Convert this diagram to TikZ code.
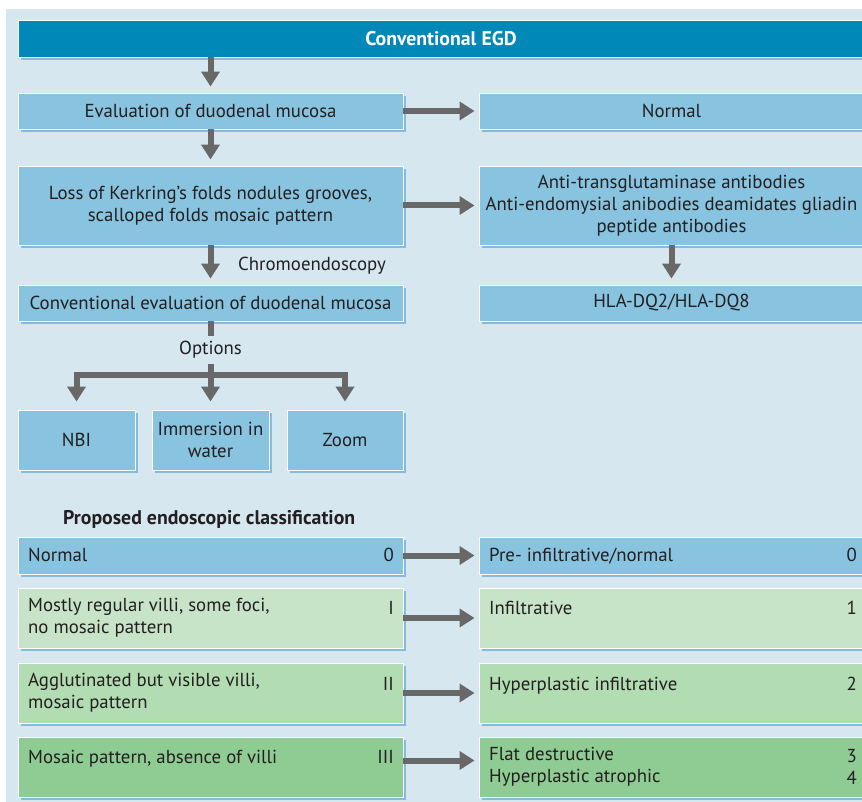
\documentclass[tikz,border=0pt]{standalone}
\usepackage{fontspec}
\setmainfont{PT Sans}
\usetikzlibrary{arrows.meta,shadows,calc}
\definecolor{bgc}{HTML}{D6E7F0}
\definecolor{hdrc}{HTML}{0088B8}
\definecolor{boxc}{HTML}{88C3DF}
\definecolor{gA}{HTML}{C8E4C8}
\definecolor{gB}{HTML}{B2DCB2}
\definecolor{gC}{HTML}{8FCC93}
\definecolor{arrc}{HTML}{686868}
\definecolor{txtc}{HTML}{231F20}
\definecolor{shc}{HTML}{7DB8DC}
\begin{document}
\begin{tikzpicture}[x=1pt,y=-1pt,
  txt/.style={font=\fontsize{18.8}{22}\selectfont, text=txtc, inner sep=0pt},
  bold/.style={font=\fontsize{19.8}{22}\selectfont\bfseries},
  box/.style={txt, draw=white, line width=0.9pt, fill=boxc, align=center,
    drop shadow={shadow xshift=3pt, shadow yshift=-3pt, fill=shc, opacity=0.9}},
  shaft/.style={draw=arrc, line width=6pt},
  arr/.style={shaft, -{Triangle[length=15pt,width=18pt]}, shorten >=6pt},
  harr/.style={shaft, -{Triangle[length=15pt,width=18pt]}, shorten >=4pt},
]
\useasboundingbox (0,0) rectangle (862,802);
\fill[bgc] (6,9) rectangle (870,810);

% header
\node[box, bold, fill=hdrc, minimum width=846pt, minimum height=37pt, text=white] (hdr) at (441,38.5) {Conventional EGD};

% left column
\node[box, minimum width=385pt, minimum height=36pt] (eval) at (210.5,111) {Evaluation of duodenal mucosa};
\node[box, minimum width=385pt, minimum height=79pt] (loss) at (210.5,205.5) {Loss of Kerkring’s folds nodules grooves,\\scalloped folds mosaic pattern};
\node[box, minimum width=385pt, minimum height=36pt] (conv) at (210.5,303) {Conventional evaluation of duodenal mucosa};
\node[box, minimum width=117pt, minimum height=60pt] (nbi) at (76.5,440) {NBI};
\node[box, minimum width=117pt, minimum height=60pt] (imm) at (210.5,440) {Immersion in\\water};
\node[box, minimum width=116pt, minimum height=60pt] (zoom) at (345,440) {Zoom};

% right column
\node[box, minimum width=385pt, minimum height=36pt] (norm) at (671.5,111) {Normal};
\node[box, minimum width=385pt, minimum height=79pt] (anti) at (671.5,205.5) {Anti-transglutaminase antibodies\\Anti-endomysial anibodies deamidates gliadin\\peptide antibodies};
\node[box, minimum width=385pt, minimum height=36pt] (hla) at (671.5,303) {HLA-DQ2/HLA-DQ8};

% arrows top part
\draw[arr] (eval.north |- hdr.south) -- (eval.north);
\draw[arr] (eval.south) -- (loss.north);
\draw[arr] (loss.south) -- (conv.north);
\node[txt, anchor=west] (chromo) at (238,266) {Chromoendoscopy};
\draw[harr] (eval.east) -- (norm.west);
\draw[harr] (loss.east) -- (anti.west);
\draw[arr] (anti.south) -- (hla.north);

% options
\coordinate (optA) at (210.5,336);
\draw[shaft] (conv.south) -- (optA);
\node[txt] (opt) at (210.5,350) {Options};
\coordinate (optB) at (210.5,364);
\coordinate (bar) at (210.5,375);
\draw[shaft] (optB) -- (bar);
\draw[arr, shorten >=8pt] (bar) -| (nbi.north);
\draw[arr, shorten >=8pt] (bar) -| (zoom.north);
\draw[arr, shorten >=8pt] (bar) -- (imm.north);

% classification
\node[txt, bold, anchor=base west] (title) at (63,524) {Proposed endoscopic classification};

\node[box, minimum width=385pt, minimum height=37pt] (c0l) at (210.5,555.5) {};
\node[box, fill=gA, minimum width=385pt, minimum height=60pt] (c1l) at (210.5,618) {};
\node[box, fill=gB, minimum width=385pt, minimum height=60pt] (c2l) at (210.5,693) {};
\node[box, fill=gC, minimum width=385pt, minimum height=60pt] (c3l) at (210.5,767) {};
\node[box, minimum width=385pt, minimum height=37pt] (c0r) at (671.5,555.5) {};
\node[box, fill=gA, minimum width=385pt, minimum height=60pt] (c1r) at (671.5,618) {};
\node[box, fill=gB, minimum width=385pt, minimum height=60pt] (c2r) at (671.5,693) {};
\node[box, fill=gC, minimum width=385pt, minimum height=60pt] (c3r) at (671.5,767) {};

\node[txt, anchor=base west] (t0l) at (28,561) {Normal};
\node[txt, anchor=west, align=left] (t1l) at (28,618) {Mostly regular villi, some foci,\\no mosaic pattern};
\node[txt, anchor=west, align=left] (t2l) at (28,693) {Agglutinated but visible villi,\\mosaic pattern};
\node[txt, anchor=base west] (t3l) at (28,763) {Mosaic pattern, absence of villi};
\node[txt, anchor=base east] (n0l) at (394,561) {0};
\node[txt, anchor=base east] (n1l) at (394,614) {I};
\node[txt, anchor=base east] (n2l) at (394,690) {II};
\node[txt, anchor=base east] (n3l) at (394,763) {III};

\node[txt, anchor=base west] (t0r) at (489,561) {Pre- infiltrative/normal};
\node[txt, anchor=base west] (t1r) at (489,614) {Infiltrative};
\node[txt, anchor=base west] (t2r) at (489,690) {Hyperplastic infiltrative};
\node[txt, anchor=west, align=left] (t3r) at (489,767) {Flat destructive\\Hyperplastic atrophic};
\node[txt, anchor=base east] (n0r) at (857,561) {0};
\node[txt, anchor=base east] (n1r) at (857,614) {1};
\node[txt, anchor=base east] (n2r) at (857,690) {2};
\node[txt, anchor=east, align=right] (n3r) at (857,767) {3\\4};

\draw[harr] (c0l.east) -- (c0r.west);
\draw[harr] (c1l.east) -- (c1r.west);
\draw[harr] (c2l.east) -- (c2r.west);
\draw[harr] (c3l.east |- t3l.mid) -- (c3r.west |- t3l.mid);
\end{tikzpicture}
\end{document}
